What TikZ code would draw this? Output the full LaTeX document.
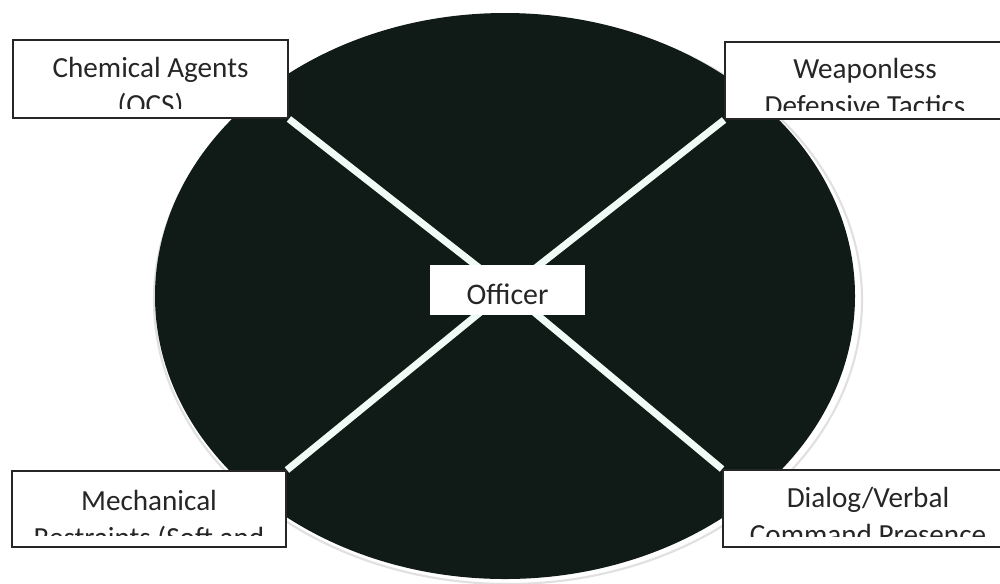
\documentclass[tikz,border=0pt]{standalone}
\usepackage{fontspec}
\setmainfont{Carlito}
\definecolor{inkfill}{RGB}{16,26,23}
\definecolor{mintwhite}{RGB}{240,251,246}
\pgfdeclarelayer{bg}
\pgfdeclarelayer{mid}
\pgfsetlayers{bg,mid,main}
\begin{document}
\begin{tikzpicture}[x=0.02cm,y=-0.02cm,
  cornerbox/.style={draw=black!85, line width=1.1pt, fill=white, inner sep=0pt},
  lbl/.style={align=center, inner sep=0pt, font=\fontsize{16.6}{21}\selectfont, text=black!85},
  wline/.style={draw=mintwhite, line width=4pt},
  centerbox/.style={fill=white, inner sep=0pt, minimum width=3.1cm, minimum height=1cm,
    text height=17pt, text depth=0pt, font=\fontsize{17}{20}\selectfont, text=black!85}]
\useasboundingbox (0,0) rectangle (1000,583);
\begin{pgfonlayer}{bg}
  \fill[white] (0,0) rectangle (1000,583);
  \draw[black!12, line width=1.2pt] (508,300) ellipse [x radius=354, y radius=284];
  \fill[inkfill] (505,296) ellipse [x radius=350, y radius=283];
\end{pgfonlayer}

% corner boxes
\node[cornerbox, minimum width=5.5cm, minimum height=1.56cm] (tl) at (150.5,79) {};
\node[cornerbox, minimum width=5.6cm, minimum height=1.54cm] (tr) at (865,80.5) {};
\node[cornerbox, minimum width=5.48cm, minimum height=1.52cm] (bl) at (149,509) {};
\node[cornerbox, minimum width=5.74cm, minimum height=1.54cm] (br) at (866.5,508.5) {};

% centre box
\node[centerbox] (officer) at (507.5,290) {Officer};

% white spokes
\begin{pgfonlayer}{mid}
  \draw[wline] (tl.south east) -- (officer.center);
  \draw[wline] (tr.south west) -- (officer.center);
  \draw[wline] (bl.north east) -- (officer.center);
  \draw[wline] (br.north west) -- (officer.center);
\end{pgfonlayer}

% clipped labels (base anchor = baseline of the last line)
\begin{scope}
  \clip (tl.north west) rectangle ([yshift=0.2cm]tl.south east);
  \node[lbl, anchor=base] (tltext) at (150.5,114) {Chemical Agents\\(OCS)};
\end{scope}
\begin{scope}
  \clip (tr.north west) rectangle ([yshift=0.18cm]tr.south east);
  \node[lbl, anchor=base] (trtext) at (865,115) {Weaponless\\Defensive Tactics};
\end{scope}
\begin{scope}
  \clip (bl.north west) rectangle ([yshift=0.24cm]bl.south east);
  \node[lbl, anchor=base] (bltext) at (149,547) {Mechanical\\Restraints (Soft and};
\end{scope}
\begin{scope}
  \clip (br.north west) rectangle ([yshift=0.22cm]br.south east);
  \node[lbl, anchor=base] (brtext) at (868,544) {Dialog/Verbal\\Command Presence};
\end{scope}
\end{tikzpicture}
\end{document}
